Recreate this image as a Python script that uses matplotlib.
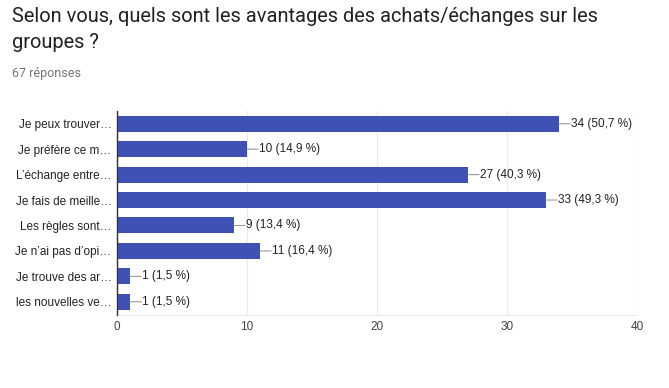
import matplotlib.pyplot as plt

plt.rcParams['font.family'] = ['Liberation Sans', 'DejaVu Sans']

labels = ["Je peux trouver…", "Je préfère ce m…", "L’échange entre…", "Je fais de meille…",
          "Les règles sont…", "Je n’ai pas d’opi…", "Je trouve des ar…", "les nouvelles ve…"]
counts = [34, 10, 27, 33, 9, 11, 1, 1]
pcts = ["50,7", "14,9", "40,3", "49,3", "13,4", "16,4", "1,5", "1,5"]
xticks = [0, 10, 20, 30, 40]

fig = plt.figure(figsize=(6.69, 3.88), dpi=100)
ax = fig.add_axes([117 / 669, 1 - 314.5 / 388, 520 / 669, 203.5 / 388])

y = range(len(labels))
ax.barh(y, counts, height=0.63, color='#3f51b5', zorder=3)
ax.set_ylim(len(labels) - 0.5, -0.5)
ax.set_xlim(0, 40)
ax.set_xticks(xticks)
ax.set_yticks(list(y))
ax.set_yticklabels(labels, fontsize=8.5, color='#222222')
ax.tick_params(axis='x', length=0, labelsize=8.5, labelcolor='#444444', pad=5)
ax.tick_params(axis='y', length=0, pad=4)
ax.grid(axis='x', color='#ebebeb', lw=1, zorder=0)

for s in ['top', 'right']:
    ax.spines[s].set_visible(False)
ax.spines['bottom'].set_color('#ebebeb')
ax.spines['left'].set_color('#333333')
ax.spines['left'].set_linewidth(1.0)
ax.spines['left'].set_zorder(4)

for i, (c, p) in enumerate(zip(counts, pcts)):
    ax.annotate('', xy=(c, i), xytext=(8, 0), textcoords='offset points',
                arrowprops=dict(arrowstyle='-', color='#999999', lw=0.8,
                                shrinkA=0, shrinkB=0))
    ax.annotate(f"{c} ({p} %)", xy=(c, i), xytext=(8.5, 0), textcoords='offset points',
                ha='left', va='center', fontsize=8.5, color='#222222')

title_font = ['Roboto', 'DejaVu Sans']
fig.text(12 / 669, 1 - 17 / 388, "Selon vous, quels sont les avantages des achats/échanges sur les",
         fontsize=14.4, color='#202124', va='center', ha='left', family=title_font)
fig.text(12 / 669, 1 - 43 / 388, "groupes ?",
         fontsize=14.4, color='#202124', va='center', ha='left', family=title_font)
fig.text(12 / 669, 1 - 73 / 388, "67 réponses", fontsize=9, color='#757575', va='center', ha='left',
         family=title_font)

fig.savefig('out.png', dpi=100)
